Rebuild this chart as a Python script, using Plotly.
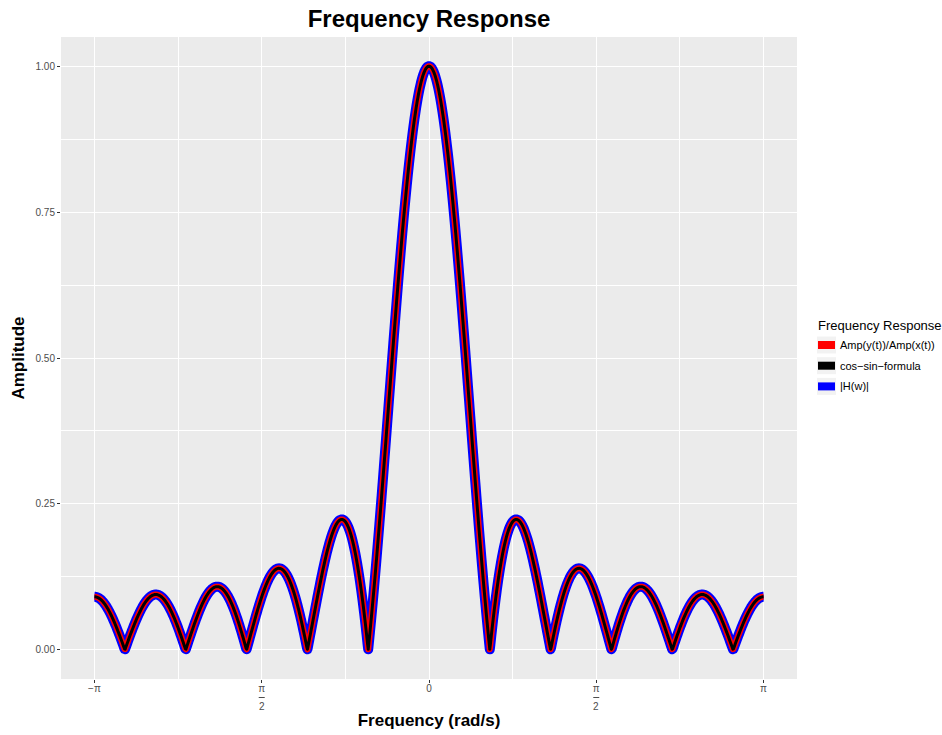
import numpy as np
import plotly.graph_objects as go

# ---- data ----
# Filter: zeros every 2*pi/11, sidelobe 0.22, value 1/11 at +-pi
# -> an 11-tap moving-average filter. The three series are its frequency response.
filter_taps = [1/11] * 11
freq_min, freq_max, n_freq = -np.pi, np.pi, 1201
series_names = ["Amp(y(t))/Amp(x(t))", "cos\u2212sin\u2212formula", "|H(w)|"]
series_colors = ["red", "black", "blue"]
legend_title = "Frequency Response"
x_tick_vals = [-np.pi, -np.pi/2, 0, np.pi/2, np.pi]
x_tick_text = ["\u2212\u03c0", "\u03c0", "0", "\u03c0", "\u03c0"]
x_frac_ticks = [-np.pi/2, np.pi/2]          # ticks whose label is the fraction pi / 2
y_tick_vals = [0.0, 0.25, 0.5, 0.75, 1.0]
y_tick_text = ["0.00", "0.25", "0.50", "0.75", "1.00"]

w = np.linspace(freq_min, freq_max, n_freq)
k = np.arange(len(filter_taps))
taps = np.array(filter_taps)
# Amp(y)/Amp(x): ratio of output to input sinusoid amplitude
amp_ratio = np.abs((taps[None, :] * np.exp(-1j * np.outer(w, k))).sum(axis=1))
# cos-sin formula
re = (taps[None, :] * np.cos(np.outer(w, k))).sum(axis=1)
im = (taps[None, :] * np.sin(np.outer(w, k))).sum(axis=1)
cos_sin = np.sqrt(re**2 + im**2)
# |H(w)|
H = np.abs(np.polyval(taps[::-1], np.exp(-1j * w)))
values = {series_names[0]: amp_ratio, series_names[1]: cos_sin, series_names[2]: H}

# ---- layout constants (pixels) ----
W, Hgt = 942, 735
ML, MR, MT, MB = 61, 145, 37, 56
PW, PH = W - ML - MR, Hgt - MT - MB
span = freq_max - freq_min
x_range = [freq_min - 0.05 * span, freq_max + 0.05 * span]
data_per_px = (x_range[1] - x_range[0]) / PW

def px_x(px):  # pixel -> paper x
    return (px - ML) / PW

def px_y(py):  # pixel -> paper y
    return (Hgt - MB - py) / PH

fig = go.Figure()
# draw order: blue (widest) at bottom, red, black on top
widths = {series_names[2]: 10, series_names[0]: 6, series_names[1]: 3}
for name in [series_names[2], series_names[0], series_names[1]]:
    col = series_colors[series_names.index(name)]
    fig.add_trace(go.Scatter(x=w, y=values[name], mode="lines", name=name,
                             line=dict(color=col, width=widths[name], simplify=False),
                             showlegend=False, hoverinfo="skip"))

annotations = []
shapes = []
# fraction parts of the pi/2 tick labels (bar + denominator)
for xv in x_frac_ticks:
    shapes.append(dict(type="line", xref="x", yref="paper",
                       x0=xv - 3 * data_per_px, x1=xv + 3 * data_per_px,
                       y0=px_y(697.5), y1=px_y(697.5), line=dict(color="#4D4D4D", width=1)))
    annotations.append(dict(x=xv, xref="x", y=px_y(706.5), yref="paper", yanchor="middle",
                            text="2", showarrow=False, borderpad=0,
                            font=dict(size=10, color="#4D4D4D")))
# manual legend (ggplot style keys)
annotations.append(dict(x=px_x(816), xref="paper", xanchor="left", y=px_y(325), yref="paper",
                        yanchor="middle", text=legend_title, showarrow=False,
                        font=dict(size=13, color="black")))
for i, (name, col) in enumerate(zip(series_names, series_colors)):
    cy = 345 + i * 20.7
    shapes.append(dict(type="rect", xref="paper", yref="paper", layer="above",
                       x0=px_x(817), x1=px_x(836), y0=px_y(cy - 8.5), y1=px_y(cy + 8.5),
                       fillcolor="#F2F2F2", line=dict(width=0)))
    shapes.append(dict(type="rect", xref="paper", yref="paper", layer="above",
                       x0=px_x(818), x1=px_x(835), y0=px_y(cy - 4), y1=px_y(cy + 4),
                       fillcolor=col, line=dict(width=0)))
    annotations.append(dict(x=px_x(838), xref="paper", xanchor="left", y=px_y(cy), yref="paper",
                            yanchor="middle", text=name, showarrow=False,
                            font=dict(size=11, color="black")))

fig.update_layout(
    width=W, height=Hgt,
    margin=dict(l=ML, r=MR, t=MT, b=MB),
    paper_bgcolor="white", plot_bgcolor="#EBEBEB",
    font=dict(family="Liberation Sans, Arial, sans-serif", color="#4D4D4D"),
    title=dict(text="<b>Frequency Response</b>", x=0.5, xref="paper", xanchor="center",
               y=1 - 19/Hgt, yanchor="middle", yref="container",
               font=dict(size=24, color="black")),
    showlegend=False,
    annotations=annotations, shapes=shapes,
)
fig.update_xaxes(
    range=x_range, automargin=False,
    tickmode="array", tickvals=x_tick_vals, ticktext=x_tick_text,
    tickfont=dict(size=10, color="#4D4D4D"), ticklabelstandoff=-3,
    ticks="outside", ticklen=3, tickcolor="#333333", tickwidth=1,
    showgrid=True, gridcolor="white", gridwidth=1.1, zeroline=False, showline=False,
    minor=dict(tickvals=[-3*np.pi/4, -np.pi/4, np.pi/4, 3*np.pi/4], showgrid=True,
               gridcolor="white", gridwidth=0.5, ticklen=0),
    title=dict(text="<b>Frequency (rad/s)</b>", font=dict(size=17, color="black"), standoff=21),
)
fig.update_yaxes(
    range=[-0.05, 1.05], automargin=False,
    tickmode="array", tickvals=y_tick_vals, ticktext=y_tick_text,
    tickfont=dict(size=10, color="#4D4D4D"),
    ticks="outside", ticklen=3, tickcolor="#333333", tickwidth=1,
    showgrid=True, gridcolor="white", gridwidth=1.1, zeroline=False, showline=False,
    minor=dict(tickvals=[0.125, 0.375, 0.625, 0.875], showgrid=True,
               gridcolor="white", gridwidth=0.5, ticklen=0),
    title=dict(text="<b>Amplitude</b>", font=dict(size=17, color="black"), standoff=6),
)
post = ("document.querySelectorAll('.scatterlayer path.js-line').forEach(function(p){"
        "p.style.strokeLinejoin='round';});")
fig.write_html("out.html", post_script=post)
